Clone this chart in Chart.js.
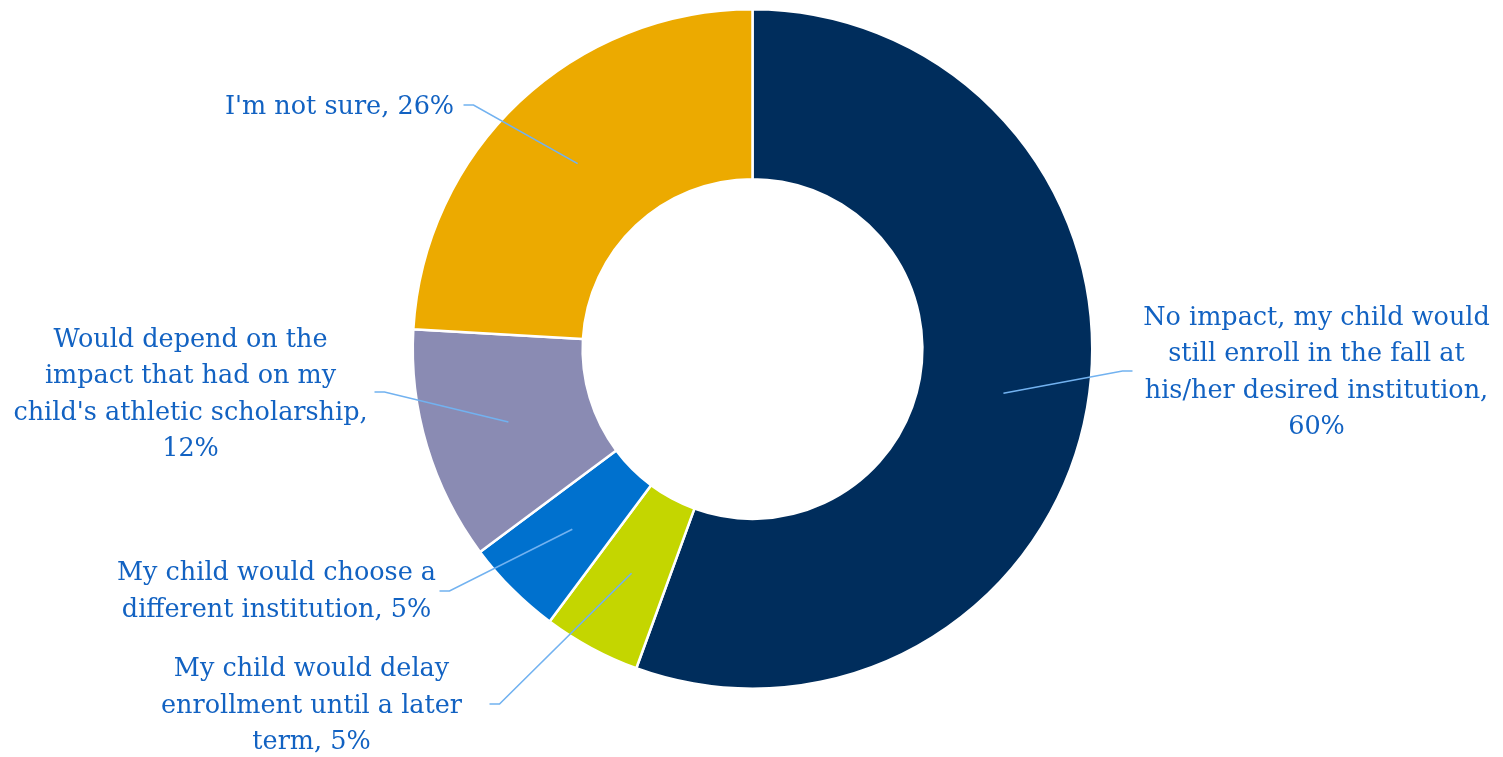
<!DOCTYPE html>
<html>
<head>
<meta charset="utf-8">
<script src="https://cdn.jsdelivr.net/npm/chart.js@4.4.1/dist/chart.umd.min.js"></script>
<style>
  html, body { margin: 0; padding: 0; background: #fff; }
  #wrap { width: 1503px; height: 757px; }
</style>
</head>
<body>
<div id="wrap"><canvas id="myChart"></canvas></div>
<script>
// categories, '|' marks a line break in the data label
const categories = [
    'No impact, my child would|still enroll in the fall at|his/her desired institution',
    'My child would delay|enrollment until a later|term',
    'My child would choose a|different institution',
    "Would depend on the|impact that had on my|child's athletic scholarship",
    "I'm not sure"
];
const values = [60, 5, 5, 12, 26];
// does the percentage go on its own line?
const valueOnNewLine = [true, false, false, true, false];

const colors = ['#002D5C', '#C4D600', '#0071CE', '#8A8BB3', '#ECAA00'];

// label placement relative to the doughnut centre (px)
const labelLayout = [
    { text: [564, 24],   elbow: [370, 22],   tail: 10 },
    { text: [-441, 357], elbow: [-253, 355], tail: -10 },
    { text: [-476, 243], elbow: [-303, 242], tail: -10 },
    { text: [-562, 46],  elbow: [-368, 43],  tail: -10 },
    { text: [-413, -242], elbow: [-279, -244], tail: -10 }
];

const labelFont = '25.5px "DejaVu Serif"';
const lineHeight = 36.5;

const leaderLabels = {
    id: 'leaderLabels',
    afterDatasetsDraw(chart) {
        const { ctx } = chart;
        const meta = chart.getDatasetMeta(0);
        ctx.save();
        meta.data.forEach((arc, i) => {
            const lay = labelLayout[i];
            const a = arc.tooltipPosition();
            const ex = arc.x + lay.elbow[0];
            const ey = arc.y + lay.elbow[1];

            ctx.beginPath();
            ctx.strokeStyle = '#72B2F0';
            ctx.lineWidth = 1.6;
            ctx.moveTo(a.x, a.y);
            ctx.lineTo(ex, ey);
            ctx.lineTo(ex + lay.tail, ey);
            ctx.stroke();

            const text = categories[i] + ',' + (valueOnNewLine[i] ? '|' : ' ') + values[i] + '%';
            const lines = text.split('|');
            ctx.font = labelFont;
            ctx.fillStyle = '#1262C2';
            ctx.textAlign = 'center';
            ctx.textBaseline = 'middle';
            const tx = arc.x + lay.text[0];
            const ty0 = arc.y + lay.text[1] - (lines.length - 1) * lineHeight / 2;
            lines.forEach((ln, k) => ctx.fillText(ln, tx, ty0 + k * lineHeight));
        });
        ctx.restore();
    }
};

const ctx = document.getElementById('myChart');

new Chart(ctx, {
    type: 'doughnut',
    data: {
        labels: categories.map(c => c.replace(/\|/g, ' ')),
        datasets: [{
            data: values,
            backgroundColor: colors,
            borderColor: '#ffffff',
            borderWidth: 2.5
        }]
    },
    options: {
        responsive: true,
        maintainAspectRatio: false,
        animation: false,
        cutout: '50%',
        layout: { padding: { top: 8, bottom: 67, left: 2, right: 0 } },
        plugins: {
            legend: { display: false },
            tooltip: { enabled: false }
        }
    },
    plugins: [leaderLabels]
});
</script>
</body>
</html>
